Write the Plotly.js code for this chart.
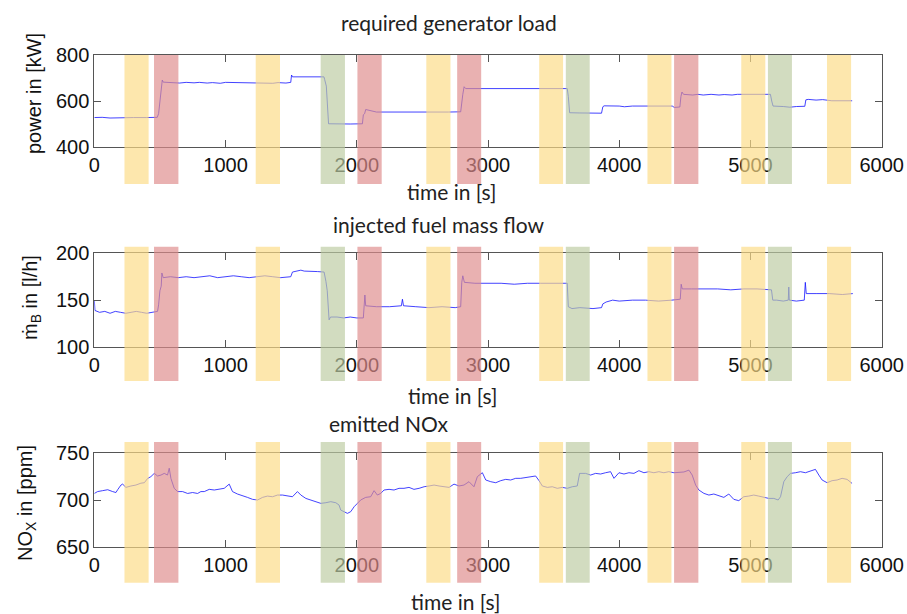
<!DOCTYPE html>
<html>
<head>
<meta charset="utf-8">
<script src="https://cdn.plot.ly/plotly-3.0.1.min.js"></script>
<style>
  html, body { margin: 0; padding: 0; background: #fff; }
  #chart { width: 907px; height: 614px; }
</style>
</head>
<body>
<div id="chart"></div>
<script>
// Generator test run: load steps, fuel flow and NOx emission over time

// required generator load [kW]
const powerTime = [0, 60, 120, 200, 300, 400, 480, 490, 500, 510, 518, 525, 600, 650, 700, 760, 800, 860, 900, 960, 1000, 1100, 1200, 1260, 1300, 1360, 1400, 1460, 1497, 1503, 1510, 1600, 1700, 1750, 1755, 1768, 1785, 1850, 1950, 2043, 2050, 2060, 2068, 2150, 2300, 2330, 2450, 2600, 2700, 2792, 2800, 2808, 2818, 2830, 3000, 3200, 3400, 3604, 3612, 3622, 3700, 3800, 3865, 3875, 3885, 4000, 4040, 4100, 4200, 4300, 4404, 4420, 4462, 4470, 4478, 4490, 4560, 4600, 4640, 4700, 4760, 4800, 4860, 4900, 5000, 5060, 5100, 5152, 5162, 5172, 5250, 5300, 5350, 5414, 5422, 5440, 5500, 5550, 5620, 5700, 5775];
const powerKW = [528, 529, 526, 528, 528, 528, 529, 545, 600, 650, 691, 682, 681, 678, 681, 679, 681, 678, 680, 677, 681, 680, 680, 678, 680, 677, 680, 678, 681, 713, 705, 706, 705, 705, 694, 665, 501, 500, 500, 501, 540, 545, 563, 552, 552, 549, 551, 552, 552, 553, 600, 629, 662, 654, 654, 654, 654, 654, 620, 549, 548, 546, 547, 575, 579, 578, 575, 578, 578, 578, 578, 572, 574, 619, 639, 629, 626, 629, 626, 629, 626, 628, 626, 629, 629, 626, 629, 629, 600, 578, 576, 573, 576, 577, 605, 607, 604, 606, 601, 601, 601];

// injected fuel mass flow [l/h]
const fuelTime = [0, 5, 40, 80, 120, 160, 200, 240, 280, 320, 360, 400, 440, 482, 490, 500, 510, 515, 525, 580, 640, 700, 760, 820, 880, 940, 1000, 1060, 1120, 1180, 1240, 1300, 1360, 1420, 1497, 1510, 1574, 1600, 1700, 1751, 1765, 1775, 1789, 1800, 1850, 1900, 1950, 2000, 2050, 2056, 2062, 2068, 2150, 2250, 2340, 2348, 2356, 2450, 2550, 2650, 2750, 2792, 2800, 2808, 2820, 2900, 3000, 3100, 3200, 3300, 3400, 3500, 3604, 3612, 3640, 3700, 3800, 3865, 3875, 3900, 3950, 4000, 4100, 4200, 4300, 4400, 4465, 4472, 4480, 4550, 4650, 4750, 4850, 4950, 5050, 5160, 5170, 5200, 5250, 5288, 5292, 5296, 5350, 5410, 5418, 5425, 5500, 5600, 5700, 5780];
const fuelLH = [150, 139, 137, 138, 136, 138, 137, 136, 137, 138, 137, 136, 137, 138, 145, 160, 165, 179, 174, 175, 174, 175, 174, 175, 176, 174, 175, 176, 175, 174, 175, 176, 175, 174, 175, 180, 182, 181, 180.5, 180, 170, 160, 129, 132, 132, 131, 132, 131, 131, 143, 155.5, 144, 143, 143, 144, 151, 144, 143, 142, 143, 142, 143, 169, 176, 169, 168, 168, 168, 167, 168, 168, 168, 168, 143, 141, 142, 141, 142, 146, 148, 150, 149, 150, 150, 149, 150, 151, 167, 162, 162, 162, 162, 161, 162, 162, 161, 150, 150, 149, 150, 164, 150, 149, 150, 169, 157, 157, 157, 156, 157];

// emitted NOx [ppm]
const noxTime = [0, 25, 63, 102, 140, 165, 178, 203, 216, 241, 279, 317, 355, 381, 406, 431, 457, 482, 508, 533, 558, 571, 584, 609, 635, 673, 711, 749, 787, 812, 838, 876, 914, 952, 990, 1028, 1053, 1091, 1129, 1167, 1206, 1244, 1282, 1320, 1358, 1396, 1434, 1472, 1510, 1548, 1574, 1612, 1650, 1688, 1726, 1764, 1802, 1840, 1865, 1878, 1904, 1929, 1954, 1980, 2005, 2030, 2068, 2106, 2132, 2157, 2183, 2208, 2246, 2284, 2322, 2360, 2398, 2436, 2475, 2513, 2551, 2589, 2627, 2665, 2703, 2741, 2779, 2817, 2855, 2893, 2919, 2957, 2983, 3021, 3059, 3097, 3135, 3173, 3211, 3249, 3287, 3325, 3363, 3389, 3414, 3452, 3490, 3528, 3566, 3604, 3642, 3680, 3698, 3744, 3782, 3820, 3858, 3896, 3934, 3960, 3998, 4036, 4074, 4112, 4150, 4188, 4226, 4264, 4302, 4340, 4378, 4416, 4455, 4493, 4531, 4556, 4582, 4607, 4645, 4683, 4721, 4759, 4797, 4835, 4873, 4911, 4949, 4987, 5025, 5063, 5102, 5140, 5178, 5211, 5229, 5254, 5280, 5305, 5343, 5381, 5419, 5457, 5495, 5521, 5546, 5584, 5622, 5660, 5698, 5736, 5774];
const noxPPM = [707, 709, 710, 711, 709, 708, 711, 716, 717, 713.5, 715, 716, 718, 718.5, 723, 725, 728.5, 725.7, 726.7, 728.5, 726.7, 734, 723, 712.5, 709, 709, 707, 708, 707, 709, 709, 711.4, 710.7, 711.4, 712.5, 717, 709, 706.4, 704.2, 702.8, 700.7, 700, 702.8, 704.2, 703.5, 705.3, 705.3, 704.2, 703.5, 709, 705.3, 701.7, 700, 698.2, 696.4, 697.1, 698.2, 697.1, 694.6, 689.2, 687.5, 685.7, 687.5, 692.8, 696.4, 700, 702.8, 703.5, 710, 705.3, 707.1, 710.7, 711.4, 710.7, 712.5, 712.5, 713.5, 711.4, 712.5, 714.2, 715, 716, 715, 714.2, 713.5, 717, 715, 716, 719.6, 714.2, 725, 729.2, 721.4, 719.6, 718.5, 720.7, 722.1, 721.4, 723.2, 723.2, 724.2, 725, 725.7, 720.7, 715, 713.5, 714.2, 712.5, 713.5, 712.5, 714.2, 715, 728.5, 728.5, 726.7, 728.5, 727.8, 729.2, 730.3, 723.2, 729.2, 727.8, 729.2, 728.5, 731.4, 729.2, 730.3, 729.2, 730.3, 729.2, 730.3, 729.2, 729.2, 730, 732, 726.7, 716, 710.7, 707.1, 705.3, 706.4, 704.2, 702.8, 706.4, 700.7, 699.3, 703.5, 704.2, 705.3, 704.2, 702.8, 701.7, 701.7, 700, 703.5, 719.6, 725, 728.5, 729.2, 730.3, 729.2, 731.4, 732.8, 726.7, 721.4, 718.5, 720.7, 721.4, 723.2, 722.1, 717.8];

// operating phases (start / end in s) and their type
const phaseStart = [230, 455, 1230, 1725, 2005, 2530, 2765, 3390, 3593, 4215, 4418, 4930, 5133, 5583];
const phaseEnd   = [414, 641, 1415, 1910, 2190, 2714, 2948, 3572, 3775, 4398, 4603, 5113, 5316, 5767];
const phaseType  = ['yellow', 'red', 'yellow', 'green', 'red', 'yellow', 'red', 'yellow', 'green', 'yellow', 'red', 'yellow', 'green', 'yellow'];

const timeTicks = [0, 1000, 2000, 3000, 4000, 5000, 6000];

const phaseColor = { yellow: '#FCDC86', red: '#DF8C8C', green: '#BDCBA2' };
const W = 907, H = 614;
const px = v => v / W;          // horizontal pixel -> paper
const py = v => 1 - v / H;      // vertical pixel -> paper

const tickFont = { family: 'Liberation Sans', size: 20, color: '#111' };
const textFont = { family: 'Lato', size: 21, color: '#222' };

// panel frames in pixels: [top, bottom, band top, band bottom]
const panels = [
  { top: 55,    bottom: 147,   bandTop: 55,    bandBottom: 184,   range: [400, 800], dtick: 200 },
  { top: 253.3, bottom: 347,   bandTop: 246.7, bandBottom: 381,   range: [100, 200], dtick: 50 },
  { top: 453.3, bottom: 546.7, bandTop: 442,   bandBottom: 582.7, range: [650, 750], dtick: 50 }
];
const xDomain = [px(94.3), px(881.7)];

const lineStyle = { color: 'rgba(20,20,255,0.8)', width: 1 };
const series = [[powerTime, powerKW], [fuelTime, fuelLH], [noxTime, noxPPM]];
const data = series.map((s, i) => ({
  x: s[0], y: s[1], type: 'scatter', mode: 'lines',
  line: lineStyle, xaxis: i ? 'x' + (i + 1) : 'x', yaxis: i ? 'y' + (i + 1) : 'y',
  hoverinfo: 'x+y', showlegend: false
}));

const layout = {
  width: W, height: H,
  margin: { l: 0, r: 0, t: 0, b: 0 },
  paper_bgcolor: '#fff', plot_bgcolor: 'rgba(0,0,0,0)',
  font: { family: 'Liberation Sans' },
  showlegend: false,
  shapes: [], annotations: []
};

panels.forEach((p, i) => {
  const n = i ? String(i + 1) : '';
  layout['xaxis' + n] = {
    domain: xDomain, range: [0, 6000], anchor: 'y' + n,
    tickvals: timeTicks, ticktext: timeTicks.map(String),
    ticks: 'inside', ticklen: 7, tickcolor: '#555', tickwidth: 1,
    showline: true, linecolor: '#555', linewidth: 1, mirror: 'ticks',
    showgrid: false, zeroline: false, tickfont: tickFont
  };
  layout['yaxis' + n] = {
    domain: [py(p.bottom), py(p.top)], range: p.range, dtick: p.dtick, anchor: 'x' + n,
    ticks: 'inside', ticklen: 7, tickcolor: '#555', tickwidth: 1,
    showline: true, linecolor: '#555', linewidth: 1, mirror: 'ticks',
    showgrid: false, zeroline: false, tickfont: tickFont
  };
  phaseStart.forEach((s, k) => {
    layout.shapes.push({
      type: 'rect', xref: 'x' + n, yref: 'paper',
      x0: s, x1: phaseEnd[k], y0: py(p.bandBottom), y1: py(p.bandTop),
      fillcolor: phaseColor[phaseType[k]], opacity: 0.68, line: { width: 0 }, layer: 'above'
    });
  });
});

const titles = [
  ['required generator load', 449, 22],
  ['injected fuel mass flow', 438.5, 225],
  ['emitted NOx', 388.5, 423]
];
titles.forEach(t => layout.annotations.push({
  text: t[0], x: px(t[1]), y: py(t[2]), xref: 'paper', yref: 'paper',
  showarrow: false, font: textFont, xanchor: 'center', yanchor: 'middle'
}));

[[452, 191], [453, 396], [456, 601]].forEach(c => layout.annotations.push({
  text: 'time in [s]', x: px(c[0]), y: py(c[1]), xref: 'paper', yref: 'paper',
  showarrow: false, font: textFont, xanchor: 'center', yanchor: 'middle'
}));

const yTitles = [
  ['power in [kW]', 34, 94],
  ['ṁ<sub>B</sub> in [l/h]', 31, 298],
  ['NO<sub>X</sub> in [ppm]', 26, 503]
];
yTitles.forEach(t => layout.annotations.push({
  text: t[0], x: px(t[1]), y: py(t[2]), xref: 'paper', yref: 'paper',
  showarrow: false, textangle: -90, font: tickFont, xanchor: 'center', yanchor: 'middle'
}));

Plotly.newPlot('chart', data, layout, { displayModeBar: false, staticPlot: true });
</script>
</body>
</html>
